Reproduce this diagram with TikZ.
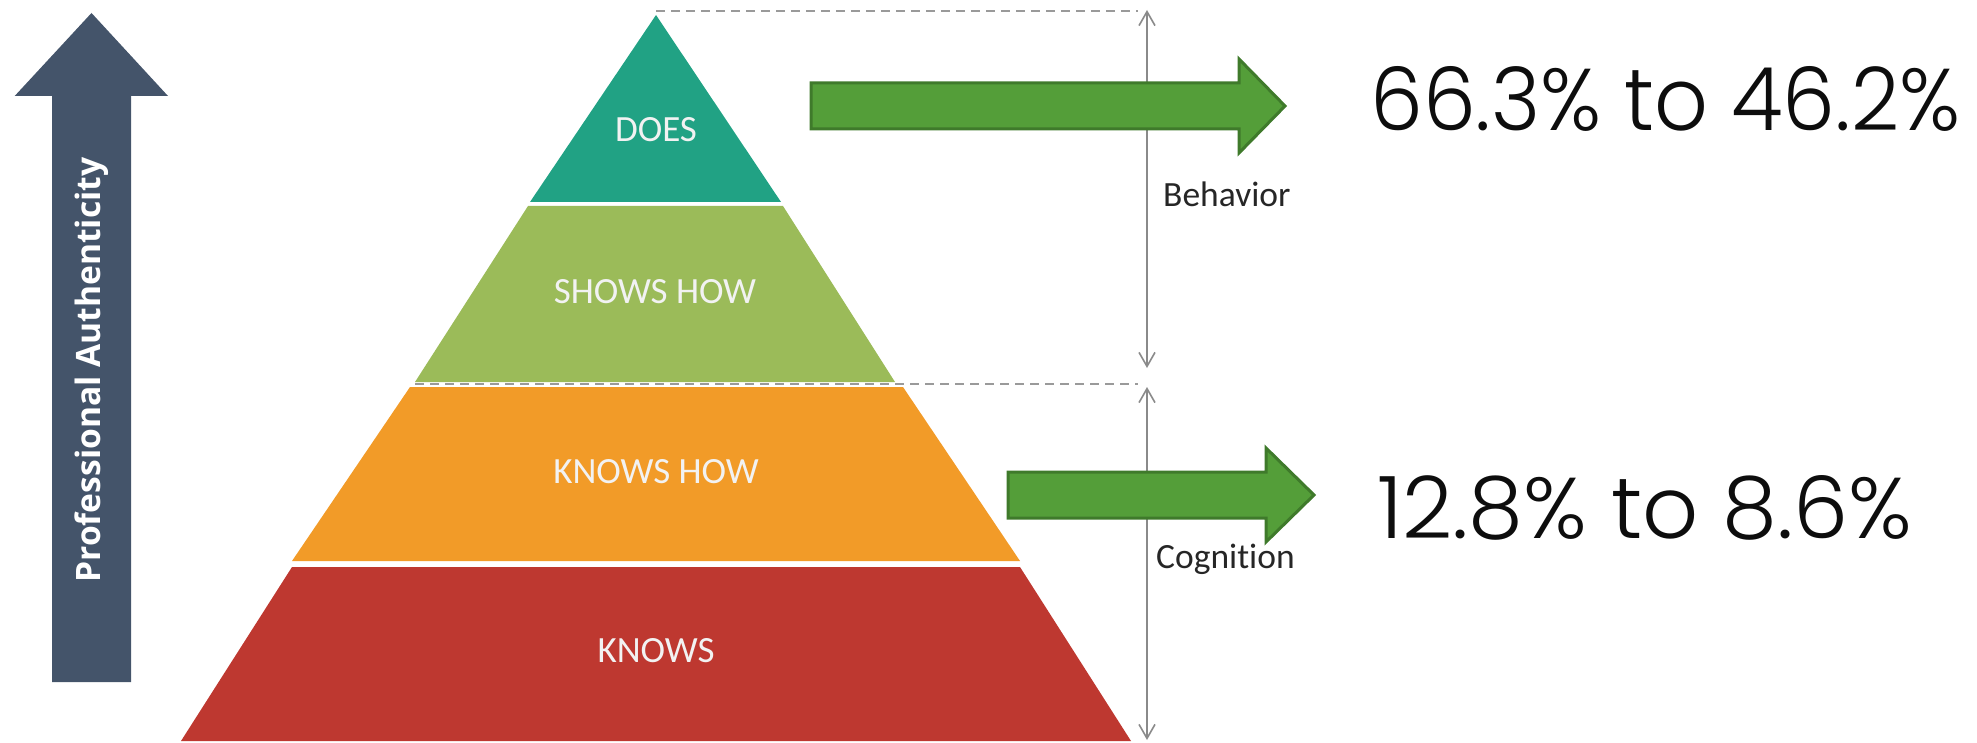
\documentclass[tikz,border=0pt]{standalone}
\usepackage{fontspec}
\setmainfont{Carlito}[Ligatures={NoCommon}, Contextuals={NoAlternate}]
\newfontfamily\osans{Open Sans}
\newfontfamily\popp{Poppins}[UprightFont=* Light]
\usetikzlibrary{arrows.meta}
\definecolor{navy}{HTML}{44546A}
\definecolor{tealc}{HTML}{21A284}
\definecolor{olivec}{HTML}{9BBB59}
\definecolor{orangec}{HTML}{F29B28}
\definecolor{redc}{HTML}{BE3830}
\definecolor{gfill}{HTML}{549E39}
\definecolor{gline}{HTML}{3F7A2B}
\definecolor{dashc}{HTML}{9A9A9A}
\definecolor{vlinec}{HTML}{8A8A8A}
\tikzset{
  lvl/.style={text=white!95!black, font=\fontsize{37}{40}\selectfont, inner sep=0pt},
  sidelbl/.style={text=black!85, font=\fontsize{35.5}{40}\selectfont, inner sep=0pt, anchor=base west},
  dashline/.style={draw=dashc, line width=2pt, dash pattern=on 9pt off 6pt},
  varrow/.style={draw=vlinec, line width=1.6pt, {Straight Barb[length=14pt,width=16pt]}-{Straight Barb[length=14pt,width=16pt]}},
  garrow/.style={fill=gfill, draw=gline, line width=3pt, line join=miter},
  pct/.style={inner sep=0pt, anchor=south west, text=black!95}
}
\begin{document}
\begin{tikzpicture}[x=1pt,y=-1pt]
\useasboundingbox (0,0) rectangle (1977,743);
% professional authenticity arrow
\fill[navy] (52,682) -- (52,96) -- (14.7,96) -- (91.5,13) -- (168,96) -- (131,96) -- (131,682) -- cycle;
\node[rotate=90, text=white, inner sep=0pt] (pa) at (92,370) {\resizebox{425pt}{!}{\osans\bfseries Professional Authenticity}};
% pyramid
\fill[tealc] (656,15) -- (781,202) -- (530,202) -- cycle;
\fill[olivec] (528,206) -- (783,206) -- (895,382) -- (415,382) -- cycle;
\fill[orangec] (410,387) -- (903,387) -- (1020,561) -- (292,561) -- cycle;
\fill[redc] (292,567) -- (1020,567) -- (1131,741) -- (181,741) -- cycle;
\node[lvl] (does) at (656,130) {DOES};
\node[lvl] (shows) at (655,292) {SHOWS HOW};
\node[lvl] (knowshow) at (656,472) {KNOWS HOW};
\node[lvl] (knows) at (656,651) {KNOWS};
% dashed guides
\coordinate (apex) at (656,11);
\coordinate (dtopend) at (1138,11);
\coordinate (midleft) at (415,384);
\coordinate (midend) at (1138,384);
\draw[dashline] (apex) -- (dtopend);
\draw[dashline] (midleft) -- (midend);
% vertical dimension arrows
\coordinate (b1) at (1147,10);
\coordinate (b2) at (1147,368);
\coordinate (c1) at (1147,387);
\coordinate (c2) at (1147,740);
\draw[varrow] (b1) -- (b2);
\draw[varrow] (c1) -- (c2);
\node[sidelbl] (beh) at (1163,207) {Behavior};
\node[sidelbl] (cog) at (1156,568) {Cognition};
% green arrows
\draw[garrow] (811,83) -- (1239,83) -- (1239,59) -- (1285,106) -- (1239,153) -- (1239,129) -- (811,129) -- cycle;
\draw[garrow] (1008,472) -- (1266,472) -- (1266,448) -- (1314,495) -- (1266,542) -- (1266,518) -- (1008,518) -- cycle;
% percentages
\node[pct] (p1) at (1370,132) {\resizebox{590pt}{64pt}{\popp 66.3\% to 46.2\%}};
\node[pct] (p2) at (1377,541) {\resizebox{535pt}{63pt}{\popp 12.8\% to 8.6\%}};
\end{tikzpicture}
\end{document}
